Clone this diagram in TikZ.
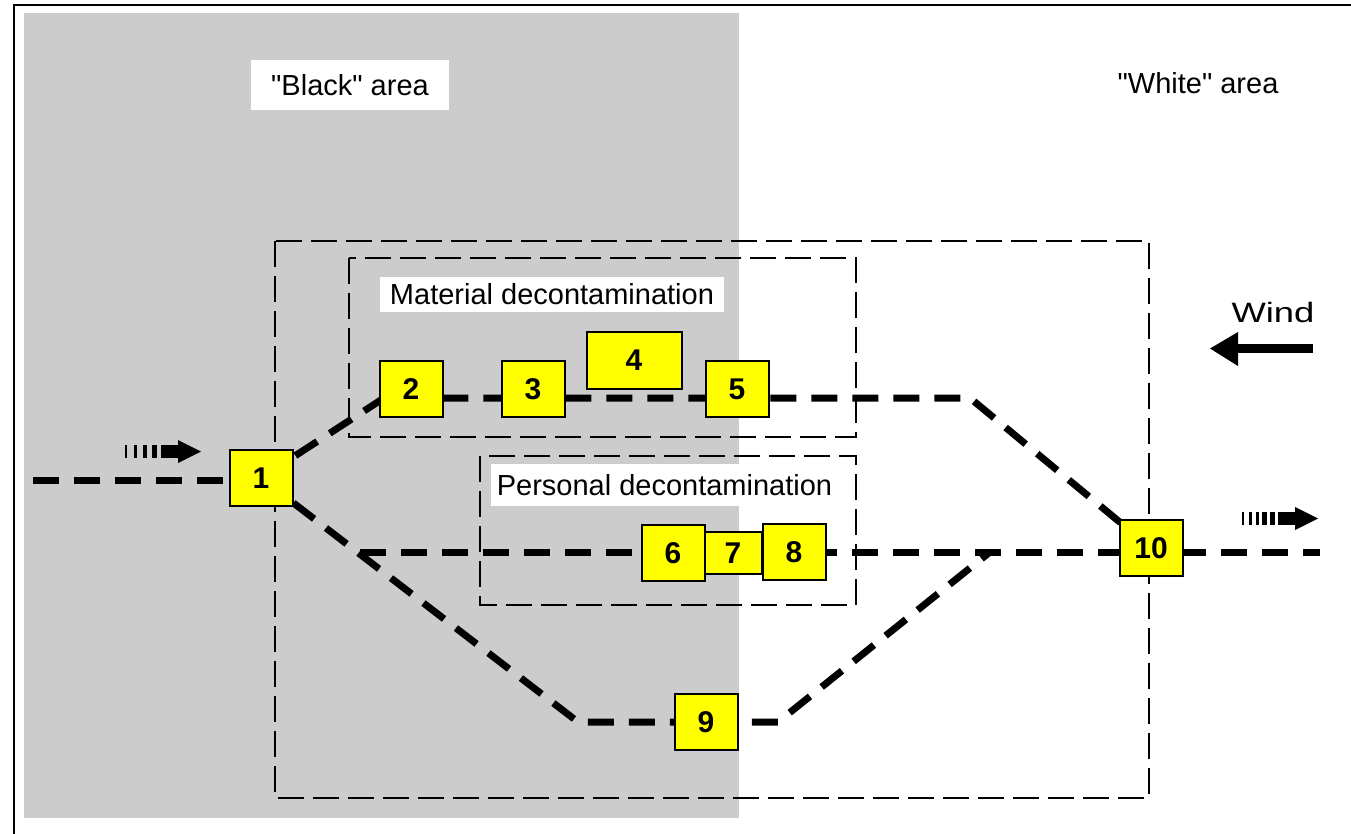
\documentclass[tikz,border=0pt]{standalone}
\usepackage{fontspec}
\setmainfont{Liberation Sans}[Ligatures=TeXOff]
\usepackage{graphicx}
\definecolor{grayarea}{HTML}{CCCCCC}
\definecolor{boxyellow}{HTML}{FFFF00}
\pgfdeclarelayer{back}
\pgfdeclarelayer{lines}
\pgfsetlayers{back,lines,main}
\begin{document}
\begin{tikzpicture}[x=1pt,y=-1pt,
  numbox/.style={draw=black, line width=2pt, fill=boxyellow, minimum width=63pt, minimum height=56pt, inner sep=0pt, font=\fontsize{30}{30}\selectfont\bfseries},
  thinbox/.style={draw=black, line width=2pt, dash pattern=on 26pt off 9pt},
  flow/.style={line width=7pt, dash pattern=on 26pt off 15pt},
  arealabel/.style={fill=white, inner sep=0pt, font=\fontsize{29}{29}\selectfont}]
\useasboundingbox (0,0) rectangle (1351,834);
\begin{pgfonlayer}{back}
  \fill[grayarea] (24,13) rectangle (739,818);
  \draw[line width=2pt] (14,834) -- (14,5) -- (1351,5);
\end{pgfonlayer}

% area labels
\node[arealabel, minimum width=198pt, minimum height=50pt] (blacklbl) at (350,85) {"Black" area};
\node[arealabel, fill=none] (whitelbl) at (1198,83) {"White" area};

% dashed frames
\draw[thinbox] (275,241) rectangle (1149,798);
\draw[thinbox] (349,258) rectangle (856,437);
\draw[thinbox] (480,456) rectangle (856,605);
\node[arealabel, minimum width=344pt, minimum height=35pt] (matlbl) at (552,294) {Material decontamination};
\node[arealabel, minimum width=347pt, minimum height=42pt] (perlbl) at (664.5,485) {Personal decontamination};

% stations
\node[numbox] (n1) at (261,478) {1};
\node[numbox] (n2) at (411,389) {2};
\node[numbox] (n3) at (533,389) {3};
\node[numbox, minimum width=95pt, minimum height=57pt] (n4) at (634,360) {4};
\node[numbox] (n5) at (737,389) {5};
\node[numbox, minimum width=57pt, minimum height=42pt] (n7) at (733,553) {7};
\node[numbox] (n6) at (673,553) {6};
\node[numbox] (n8) at (794,552) {8};
\node[numbox] (n9) at (706,722) {9};
\node[numbox] (n10) at (1151,548) {10};

% flow lines
\coordinate (inL) at (33,480);
\coordinate (upK) at (384,398);
\coordinate (upR) at (970,398);
\coordinate (midL) at (360,552);
\coordinate (outR) at (1320,552);
\coordinate (loL) at (578,722);
\coordinate (loR) at (778,722);
\coordinate (loJ) at (990,552);
\begin{pgfonlayer}{lines}
  \draw[flow] (inL) -- (n1 |- inL);
  \draw[flow] (n1.center) -- (upK) -- (n2 |- upK) -- (n3 |- upK) -- (n5 |- upK) -- (upR) -- (n10.center);
  \draw[flow] (midL) -- (n6 |- midL) -- (n8 |- midL) -- (n10 |- midL) -- (outR);
  \draw[flow] (n1.center) -- (loL) -- (n9 |- loL) -- (loR) -- (loJ);
\end{pgfonlayer}

% flow direction markers
\fill (125,445) rectangle (127,458);
\fill (134,445) rectangle (137,458);
\fill (143,445) rectangle (147,458);
\fill (152,445) rectangle (157,458);
\fill (161,445) rectangle (178.5,458);
\fill (178,440) -- (201,451.5) -- (178,463) -- cycle;

\fill (1242,512) rectangle (1244,525);
\fill (1249,512) rectangle (1252,525);
\fill (1256,512) rectangle (1259,525);
\fill (1262,512) rectangle (1267,525);
\fill (1270,512) rectangle (1275,525);
\fill (1278,512) rectangle (1295.5,525);
\fill (1295,507) -- (1318,518.5) -- (1295,530) -- cycle;

% wind
\node[font=\fontsize{28}{28}\selectfont, inner sep=0pt] (windlbl) at (1273,312) {\scalebox{1.3}[1]{Wind}};
\fill (1237,344) rectangle (1313,353);
\fill (1238,332) -- (1210,348.5) -- (1238,366) -- cycle;
\end{tikzpicture}
\end{document}
